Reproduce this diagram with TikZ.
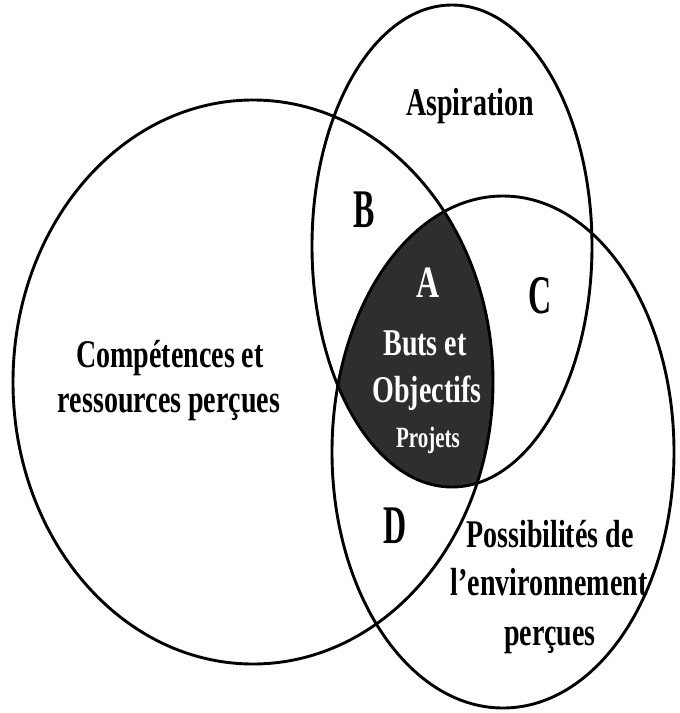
\documentclass[tikz,border=0pt]{standalone}
\usepackage{fontspec}
\setmainfont{Liberation Serif}
\begin{document}
\begin{tikzpicture}[x=1pt,y=-1pt,
  ring/.style={draw=black,line width=2.9pt},
  lbl/.style={anchor=base,inner sep=0pt,font=\fontsize{28}{30}\selectfont\bfseries},
  big/.style={anchor=base,inner sep=0pt,font=\fontsize{32}{34}\selectfont\bfseries},
  wl/.style={anchor=base,inner sep=0pt,text=white,font=\fontsize{28}{30}\selectfont\bfseries}]
\useasboundingbox (0,0) rectangle (680,713);
\fill[white] (0,0) rectangle (680,713);
% dark intersection
\begin{scope}
  \clip (253,382) ellipse [x radius=240pt, y radius=282pt];
  \clip (452,246) ellipse [x radius=140pt, y radius=241pt];
  \fill[black!82] (503,452) ellipse [x radius=171pt, y radius=256pt];
\end{scope}
\draw[ring] (253,382) ellipse [x radius=240pt, y radius=282pt];
\draw[ring] (452,246) ellipse [x radius=140pt, y radius=241pt];
\draw[ring] (503,452) ellipse [x radius=171pt, y radius=256pt];
% labels
\node[lbl] (asp) at (470,115) {\scalebox{1}[1.4]{Aspiration}};
\node[big] (b) at (364,227) {\scalebox{1}[1.7]{B}};
\node[big,text=white] (a) at (428,297) {\scalebox{1}[1.4]{A}};
\node[big] (c) at (540,313) {\scalebox{1}[1.7]{C}};
\node[big] (d) at (395,543) {\scalebox{1}[1.7]{D}};
\node[wl] (buts) at (425,355) {\scalebox{1}[1.35]{Buts et}};
\node[wl] (obj) at (427,402) {\scalebox{1}[1.35]{Objectifs}};
\node[wl,font=\fontsize{21}{23}\selectfont\bfseries] (proj) at (428,447) {\scalebox{1}[1.4]{Projets}};
\node[lbl] (comp1) at (170,367) {\scalebox{1}[1.4]{Compétences et}};
\node[lbl] (comp2) at (169,412) {\scalebox{1}[1.4]{ressources perçues}};
\node[lbl] (pos1) at (550,547) {\scalebox{1}[1.4]{Possibilités de}};
\node[lbl] (pos2) at (549,595) {\scalebox{1}[1.4]{l’environnement}};
\node[lbl] (pos3) at (550,645) {\scalebox{1}[1.4]{perçues}};
\end{tikzpicture}
\end{document}
